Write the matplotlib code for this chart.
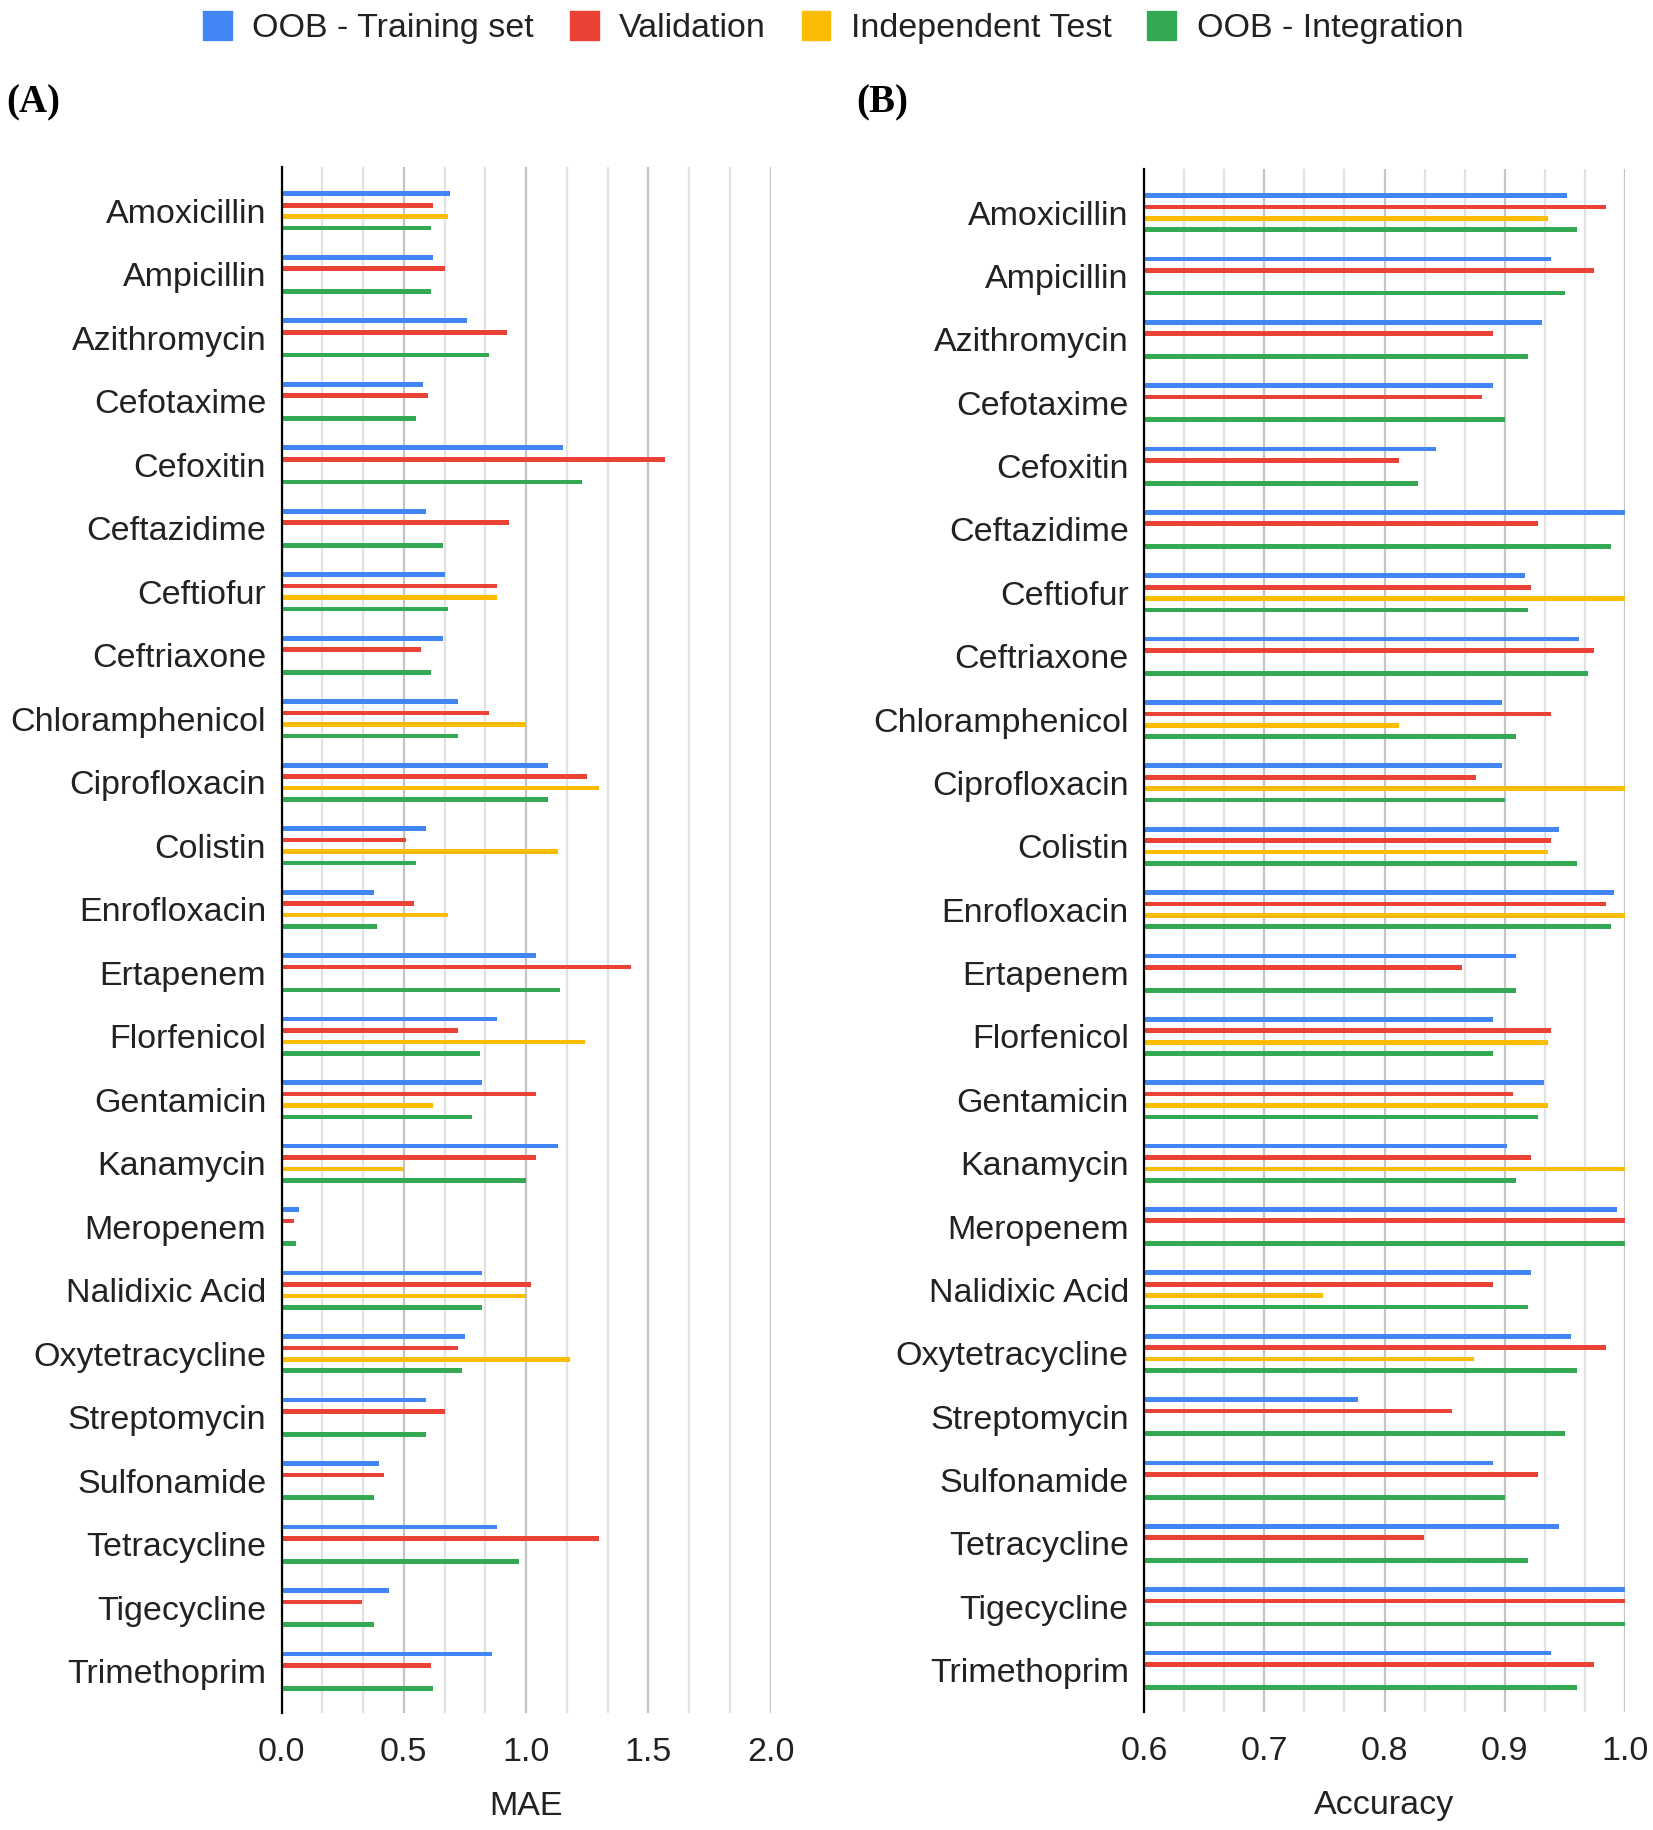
import numpy as np
from matplotlib import pyplot as plt
from matplotlib.patches import Patch
from matplotlib.ticker import MultipleLocator, FormatStrFormatter

plt.rcParams['font.family'] = ['Liberation Sans', 'DejaVu Sans']

# Data
antibiotics = ["Amoxicillin", "Ampicillin", "Azithromycin", "Cefotaxime", "Cefoxitin",
               "Ceftazidime", "Ceftiofur", "Ceftriaxone", "Chloramphenicol", "Ciprofloxacin",
               "Colistin", "Enrofloxacin", "Ertapenem", "Florfenicol", "Gentamicin",
               "Kanamycin", "Meropenem", "Nalidixic Acid", "Oxytetracycline", "Streptomycin",
               "Sulfonamide", "Tetracycline", "Tigecycline", "Trimethoprim"]
series_names = ["OOB - Training set", "Validation", "Independent Test", "OOB - Integration"]
colors = ['#4285F4', '#EA4335', '#FBBC04', '#34A853']
nan = np.nan

# MAE (panel A)
mae_training = [0.69, 0.62, 0.76, 0.58, 1.15, 0.59, 0.67, 0.66, 0.72, 1.09, 0.59, 0.38,
                1.04, 0.88, 0.82, 1.13, 0.07, 0.82, 0.75, 0.59, 0.40, 0.88, 0.44, 0.86]
mae_validation = [0.62, 0.67, 0.92, 0.60, 1.57, 0.93, 0.88, 0.57, 0.85, 1.25, 0.51, 0.54,
                  1.43, 0.72, 1.04, 1.04, 0.05, 1.02, 0.72, 0.67, 0.42, 1.30, 0.33, 0.61]
mae_independent = [0.68, nan, nan, nan, nan, nan, 0.88, nan, 1.00, 1.30, 1.13, 0.68,
                   nan, 1.24, 0.62, 0.50, nan, 1.00, 1.18, nan, nan, nan, nan, nan]
mae_integration = [0.61, 0.61, 0.85, 0.55, 1.23, 0.66, 0.68, 0.61, 0.72, 1.09, 0.55, 0.39,
                   1.14, 0.81, 0.78, 1.00, 0.06, 0.82, 0.74, 0.59, 0.38, 0.97, 0.38, 0.62]

# Accuracy (panel B)
acc_training = [0.952, 0.938, 0.931, 0.890, 0.843, 1.000, 0.917, 0.962, 0.898, 0.898, 0.945, 0.991,
                0.909, 0.890, 0.933, 0.902, 0.993, 0.922, 0.955, 0.778, 0.890, 0.945, 1.000, 0.938]
acc_validation = [0.984, 0.974, 0.890, 0.881, 0.812, 0.928, 0.922, 0.974, 0.938, 0.876, 0.938, 0.984,
                  0.864, 0.938, 0.907, 0.922, 1.000, 0.890, 0.984, 0.856, 0.928, 0.833, 1.000, 0.974]
acc_independent = [0.936, nan, nan, nan, nan, nan, 1.000, nan, 0.812, 1.000, 0.936, 1.000,
                   nan, 0.936, 0.936, 1.000, nan, 0.749, 0.874, nan, nan, nan, nan, nan]
acc_integration = [0.960, 0.950, 0.919, 0.900, 0.828, 0.988, 0.919, 0.969, 0.909, 0.900, 0.960, 0.988,
                   0.909, 0.890, 0.928, 0.909, 1.000, 0.919, 0.960, 0.950, 0.900, 0.919, 1.000, 0.960]

fig = plt.figure(figsize=(16.53, 18.30), dpi=100)

offsets = [-0.27, -0.09, 0.09, 0.27]
bar_height = 0.075
fsize = 24.5


def draw_panel(ax, series, xmin, xmax, step, xlabel):
    y = np.arange(len(antibiotics))
    for vals, color, off in zip(series, colors, offsets):
        ax.barh(y + off, np.array(vals, dtype=float) - xmin, left=xmin, height=bar_height,
                color=color, linewidth=0, zorder=3)
    ax.set_xlim(xmin, xmax)
    ax.set_ylim(23.66, -0.69)
    ax.set_yticks(y, antibiotics)
    ax.xaxis.set_major_locator(MultipleLocator(step))
    ax.xaxis.set_minor_locator(MultipleLocator(step / 3))
    ax.xaxis.set_major_formatter(FormatStrFormatter('%.1f'))
    ax.grid(which='major', axis='x', color='#c4c4c4', linewidth=1.6)
    ax.grid(which='minor', axis='x', color='#e2e2e2', linewidth=1.6)
    ax.set_axisbelow(True)
    for side in ['top', 'right', 'bottom']:
        ax.spines[side].set_visible(False)
    ax.spines['left'].set_linewidth(1.6)
    ax.spines['left'].set_zorder(4)
    ax.tick_params(axis='both', which='both', length=0, labelsize=fsize, colors='#222222')
    ax.tick_params(axis='x', pad=17)
    ax.tick_params(axis='y', pad=11)
    ax.set_xlabel(xlabel, fontsize=fsize, labelpad=17, color='#222222')


# Panel A
axA = fig.add_axes([0.1703, 0.0639, 0.2959, 0.8448])
draw_panel(axA, [mae_training, mae_validation, mae_independent, mae_integration], 0.0, 2.0, 0.5, "MAE")

# Panel B
axB = fig.add_axes([0.6921, 0.0645, 0.2910, 0.8432])
draw_panel(axB, [acc_training, acc_validation, acc_independent, acc_integration], 0.6, 1.0, 0.1, "Accuracy")

# Panel letters
fig.text(6 / 1653, 1 - 103 / 1830, "(A)", fontfamily='Liberation Serif', fontweight='bold', fontsize=28, va='center')
fig.text(856 / 1653, 1 - 103 / 1830, "(B)", fontfamily='Liberation Serif', fontweight='bold', fontsize=28, va='center')

# Legend
handles = [Patch(facecolor=c, edgecolor=c) for c in colors]
fig.legend(handles, series_names, loc='center', bbox_to_anchor=(0.504, 0.985), ncol=4, frameon=False,
           fontsize=fsize, handlelength=0.85, handleheight=0.95, handletextpad=0.6, columnspacing=1.05,
           labelcolor='#222222')

fig.savefig("out.png", dpi=100)
